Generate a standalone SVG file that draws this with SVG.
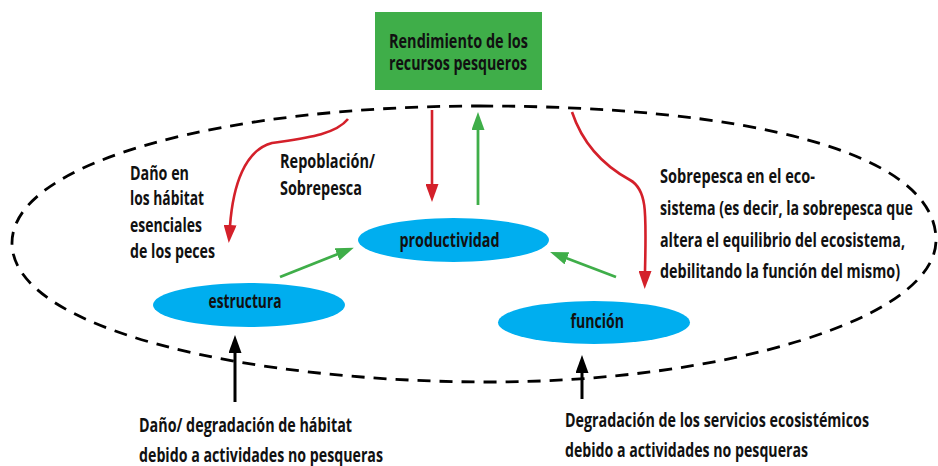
<svg xmlns="http://www.w3.org/2000/svg" width="938" height="466" viewBox="0 0 938 466">
  <defs>
    <style>
      text { font-family: "Open Sans", "Liberation Sans", sans-serif; font-weight: 700; font-size: 19px; fill: #111; }
      .node { fill: #00aeef; }
      .red { fill: none; stroke: #d4202a; stroke-width: 2.6; }
      .green { fill: none; stroke: #3fae49; stroke-width: 2.8; }
      .black { fill: none; stroke: #000; stroke-width: 3; }
      .boundary { fill: none; stroke: #000; stroke-width: 2.8; stroke-dasharray: 13 9; }
    </style>
    <marker id="ah-red" viewBox="0 0 18 13" markerWidth="18" markerHeight="13" refX="1" refY="6.5" orient="auto" markerUnits="userSpaceOnUse">
      <path d="M0,0 L18,6.5 L0,13 z" fill="#d4202a"/>
    </marker>
    <marker id="ah-green" viewBox="0 0 18 13" markerWidth="18" markerHeight="13" refX="1" refY="6.5" orient="auto" markerUnits="userSpaceOnUse">
      <path d="M0,0 L18,6.5 L0,13 z" fill="#3fae49"/>
    </marker>
    <marker id="ah-black" viewBox="0 0 18 13" markerWidth="18" markerHeight="13" refX="1" refY="6.5" orient="auto" markerUnits="userSpaceOnUse">
      <path d="M0,0 L18,6.5 L0,13 z" fill="#000"/>
    </marker>
  </defs>
  <rect width="938" height="466" fill="#fff"/>

  <path id="boundary" class="boundary" d="M480,106 C740,106 936,150 936,240 C936,320 720,382 490,382 C250,382 12,330 12,243 C12,160 230,106 480,106 Z"/>

  <g id="connectors">
    <path class="red" d="M348,119 C335,135 305,138 272,143 C245,150 233,185 230,226" marker-end="url(#ah-red)"/>
    <path class="red" d="M432,110 L432,185" marker-end="url(#ah-red)"/>
    <path class="green" d="M478,205 L478,129" marker-end="url(#ah-green)"/>
    <path class="red" d="M572,112 C584,148 608,168 630,180 C648,190 646,215 645,272" marker-end="url(#ah-red)"/>
    <path class="green" d="M280,277 L338,254" marker-end="url(#ah-green)"/>
    <path class="green" d="M616,277 L566,258" marker-end="url(#ah-green)"/>
    <path class="black" d="M235,402 L235,352" marker-end="url(#ah-black)"/>
    <path class="black" d="M582,399 L582,372" marker-end="url(#ah-black)"/>
  </g>

  <g id="rendimiento">
    <rect x="375" y="12" width="167" height="78" fill="#3fae49"/>
    <text x="389" y="48" textLength="139" lengthAdjust="spacingAndGlyphs">Rendimiento de los</text>
    <text x="389" y="70" textLength="138" lengthAdjust="spacingAndGlyphs">recursos pesqueros</text>
  </g>

  <g id="productividad">
    <ellipse class="node" cx="453.5" cy="240" rx="95.5" ry="22"/>
    <text x="399.5" y="247" textLength="100" lengthAdjust="spacingAndGlyphs">productividad</text>
  </g>

  <g id="estructura">
    <ellipse class="node" cx="249" cy="305" rx="96" ry="22"/>
    <text x="208.5" y="308" textLength="73" lengthAdjust="spacingAndGlyphs">estructura</text>
  </g>

  <g id="funcion">
    <ellipse class="node" cx="594" cy="322.5" rx="96" ry="21.5"/>
    <text x="570.5" y="328" textLength="53.5" lengthAdjust="spacingAndGlyphs">función</text>
  </g>

  <g id="label-dano-habitat">
    <text x="130" y="180" textLength="59" lengthAdjust="spacingAndGlyphs">Daño en</text>
    <text x="130" y="205" textLength="74" lengthAdjust="spacingAndGlyphs">los hábitat</text>
    <text x="130" y="232" textLength="72" lengthAdjust="spacingAndGlyphs">esenciales</text>
    <text x="130" y="258" textLength="85" lengthAdjust="spacingAndGlyphs">de los peces</text>
  </g>

  <g id="label-repoblacion">
    <text x="280" y="168" textLength="95" lengthAdjust="spacingAndGlyphs">Repoblación/</text>
    <text x="280" y="195" textLength="82" lengthAdjust="spacingAndGlyphs">Sobrepesca</text>
  </g>

  <g id="label-sobrepesca">
    <text x="660" y="183" textLength="155" lengthAdjust="spacingAndGlyphs">Sobrepesca en el eco-</text>
    <text x="660" y="215" textLength="253" lengthAdjust="spacingAndGlyphs">sistema (es decir, la sobrepesca que</text>
    <text x="660" y="247" textLength="245" lengthAdjust="spacingAndGlyphs">altera el equilibrio del ecosistema,</text>
    <text x="660" y="278" textLength="240" lengthAdjust="spacingAndGlyphs">debilitando la función del mismo)</text>
  </g>

  <g id="label-degradacion-habitat">
    <text x="139" y="432" textLength="213" lengthAdjust="spacingAndGlyphs">Daño/ degradación de hábitat</text>
    <text x="139" y="462" textLength="244" lengthAdjust="spacingAndGlyphs">debido a actividades no pesqueras</text>
  </g>

  <g id="label-degradacion-servicios">
    <text x="565" y="427" textLength="304" lengthAdjust="spacingAndGlyphs">Degradación de los servicios ecosistémicos</text>
    <text x="565" y="457" textLength="243" lengthAdjust="spacingAndGlyphs">debido a actividades no pesqueras</text>
  </g>
</svg>
